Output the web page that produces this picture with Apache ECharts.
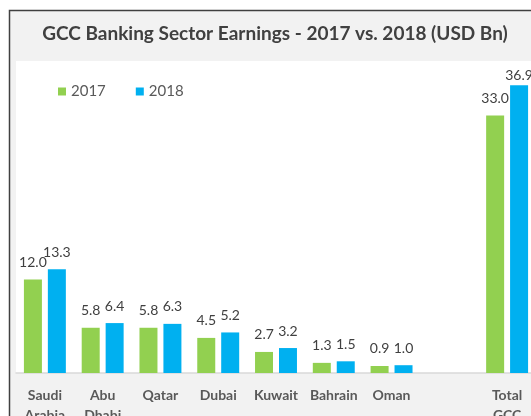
<!DOCTYPE html>
<html>
<head>
<meta charset="utf-8">
<script src="https://cdn.jsdelivr.net/npm/echarts@6/dist/echarts.min.js"></script>
<style>
html,body{margin:0;padding:0;background:#fff;}
#chart{width:531px;height:416px;}
</style>
</head>
<body>
<div id="chart"></div>
<script>
var categories = ['Saudi\nArabia', 'Abu\nDhabi', 'Qatar', 'Dubai', 'Kuwait', 'Bahrain', 'Oman', '', 'Total\nGCC'];
var values2017 = [12.0, 5.8, 5.8, 4.5, 2.7, 1.3, 0.9, null, 33.0];
var values2018 = [13.3, 6.4, 6.3, 5.2, 3.2, 1.5, 1.0, null, 36.9];
var seriesNames = ['2017', '2018'];

var FONT = 'Lato';
function toItems(arr, tightIndex) {
  return arr.map(function (v, i) {
    if (i === tightIndex) return { value: v, label: { distance: 3 } };
    return v;
  });
}
var chart = echarts.init(document.getElementById('chart'));
chart.setOption({
  backgroundColor: '#ffffff',
  animation: false,
  graphic: [{
    type: 'rect', z: -10, silent: true,
    shape: { x: 9.5, y: 10.5, width: 600, height: 500 },
    style: { fill: '#f2f2f2', stroke: '#404040', lineWidth: 1.5 }
  }],
  title: {
    text: 'GCC Banking Sector Earnings - 2017 vs. 2018 (USD Bn)',
    left: 275, top: 24, textAlign: 'center', padding: 0,
    textStyle: { fontFamily: FONT, fontSize: 19, fontWeight: 'bold', color: '#404040' }
  },
  legend: {
    data: seriesNames,
    left: 58, top: 84, padding: 0,
    icon: 'rect', itemWidth: 8, itemHeight: 8, itemGap: 30,
    textStyle: { fontFamily: FONT, fontSize: 15, color: '#595959' }
  },
  grid: {
    left: 16, top: 61, right: -5, bottom: 43,
    show: true, backgroundColor: '#ffffff', borderWidth: 0,
    containLabel: false, outerBoundsMode: 'none'
  },
  xAxis: {
    type: 'category', data: categories,
    axisTick: { show: false },
    axisLine: { lineStyle: { color: '#d9d9d9', width: 1.5 } },
    axisLabel: { interval: 0, margin: 12, fontFamily: FONT, fontSize: 14, fontWeight: 'bold', color: '#595959', lineHeight: 20 }
  },
  yAxis: {
    type: 'value', min: 0, max: 40, show: false,
    splitLine: { show: false }
  },
  series: [{
    name: seriesNames[0], type: 'bar', data: toItems(values2017, -1),
    barWidth: 18, barGap: '33%',
    itemStyle: { color: '#92d050' },
    label: { show: true, position: 'top', distance: 10, formatter: function (p) { return p.value.toFixed(1); },
      fontFamily: FONT, fontSize: 14, color: '#404040' }
  }, {
    name: seriesNames[1], type: 'bar', data: toItems(values2018, 8),
    barWidth: 18, barGap: '33%',
    itemStyle: { color: '#00b0f0' },
    label: { show: true, position: 'top', distance: 10, formatter: function (p) { return p.value.toFixed(1); },
      fontFamily: FONT, fontSize: 14, color: '#404040' }
  }]
});
</script>
</body>
</html>
